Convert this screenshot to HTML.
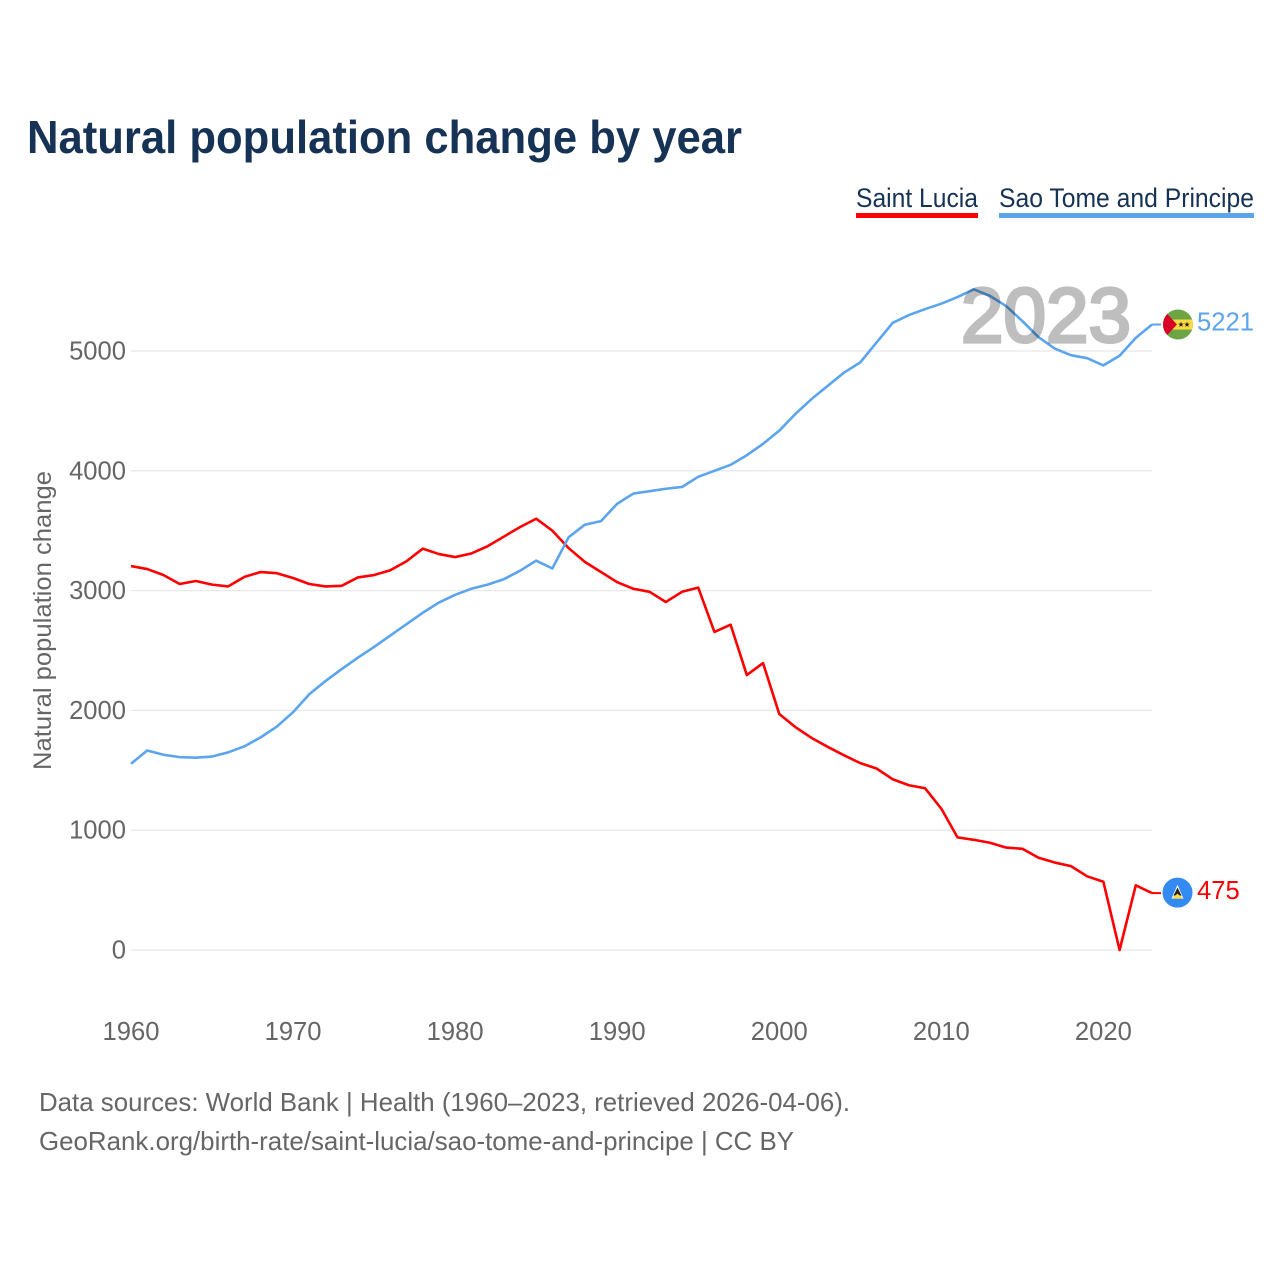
<!DOCTYPE html>
<html lang="en">
<head>
<meta charset="utf-8">
<title>Natural population change by year</title>
<style>
html,body{margin:0;padding:0;background:#fff;}
svg{display:block;font-family:"Liberation Sans",sans-serif;}
</style>
</head>
<body>
<svg id="chart" width="1280" height="1280" viewBox="0 0 1280 1280" xmlns="http://www.w3.org/2000/svg">
  <text x="27" y="153" font-size="46" font-weight="700" fill="#163254" textLength="715" lengthAdjust="spacingAndGlyphs">Natural population change by year</text>
  <g>
    <text x="856" y="207" font-size="27" fill="#163254" textLength="122" lengthAdjust="spacingAndGlyphs">Saint Lucia</text>
    <rect x="856" y="213" width="122" height="5" fill="#ff0000"/>
  </g>
  <g>
    <text x="999" y="207" font-size="27" fill="#163254" textLength="255" lengthAdjust="spacingAndGlyphs">Sao Tome and Principe</text>
    <rect x="999" y="213" width="255" height="5" fill="#5ba4ee"/>
  </g>
  <text transform="translate(51,770) rotate(-90)" font-size="25" fill="#666666" textLength="299" lengthAdjust="spacingAndGlyphs">Natural population change</text>
  <g id="grid"></g>
  <g id="yticks"></g>
  <g id="xticks"></g>
  <g id="series"></g>
  <g id="ends"></g>
  <g opacity="0.25">
    <text x="961" y="342" font-size="77" fill="#000000" stroke="#000000" stroke-width="3.2" textLength="170" lengthAdjust="spacingAndGlyphs">2023</text>
  </g>
  <text x="39" y="1111" font-size="26" fill="#666666" textLength="811" lengthAdjust="spacingAndGlyphs">Data sources: World Bank | Health (1960–2023, retrieved 2026-04-06).</text>
  <text x="39" y="1150" font-size="26" fill="#666666" textLength="755" lengthAdjust="spacingAndGlyphs">GeoRank.org/birth-rate/saint-lucia/sao-tome-and-principe | CC BY</text>
</svg>
<script>
const startYear = 1960;
const saintLucia = [3205,3180,3130,3055,3080,3050,3035,3115,3155,3145,3105,3055,3035,3040,3110,3130,3170,3245,3350,3305,3280,3310,3370,3450,3530,3600,3500,3355,3240,3155,3070,3015,2990,2905,2990,3025,2655,2715,2295,2395,1970,1860,1770,1695,1625,1560,1515,1425,1375,1350,1180,940,920,895,855,845,770,730,700,615,570,0,540,475];
const saoTome = [1555,1665,1630,1610,1605,1615,1650,1700,1775,1865,1985,2135,2245,2345,2440,2530,2625,2720,2815,2900,2965,3015,3050,3095,3165,3250,3185,3445,3550,3580,3725,3810,3830,3850,3865,3950,4000,4050,4130,4225,4335,4475,4600,4710,4820,4905,5070,5235,5300,5350,5395,5450,5515,5460,5375,5250,5115,5020,4965,4940,4880,4960,5110,5221];
const yTickValues = [0,1000,2000,3000,4000,5000];
const xTickValues = [1960,1970,1980,1990,2000,2010,2020];

const NS = 'http://www.w3.org/2000/svg';
function xScale(year){ return 131 + (year - 1960) * (1152 - 131) / 63; }
function yScale(v){ return 950 - v * 599 / 5000; }
function make(tag, attrs, parent){
  const el = document.createElementNS(NS, tag);
  for (const k in attrs) el.setAttribute(k, attrs[k]);
  parent.appendChild(el);
  return el;
}
const grid = document.getElementById('grid');
const yticks = document.getElementById('yticks');
const xticks = document.getElementById('xticks');
const seriesGroup = document.getElementById('series');
const ends = document.getElementById('ends');

yTickValues.forEach(function(v){
  const line = make('line', {x1:131, x2:1152, y1:yScale(v), y2:yScale(v), stroke:'#e8e8e8', 'stroke-width':1.3}, grid);
  
  
  const t = make('text', {x:126, y:yScale(v) + 8.5, 'text-anchor':'end', 'font-size':25.6, fill:'#666666'}, yticks);
  
  
  t.textContent = v;
});
xTickValues.forEach(function(y){
  const t = make('text', {x:xScale(y), y:1040, 'text-anchor':'middle', 'font-size':25.6, fill:'#666666'}, xticks);
  
  
  t.textContent = y;
});
function drawSeries(values, color, key){
  const pts = values.map(function(v, i){ return xScale(startYear + i).toFixed(2) + ',' + yScale(v).toFixed(2); });
  const lastX = xScale(startYear + values.length - 1);
  const lastY = yScale(values[values.length - 1]);
  const line = make('polyline', {points:pts.join(' '), fill:'none', stroke:color, 'stroke-width':2.6, 'stroke-linejoin':'round'}, seriesGroup);
  
  
  const conn = make('line', {x1:lastX, x2:lastX + 9, y1:lastY, y2:lastY, stroke:color, 'stroke-width':2}, ends);
  
  
  const label = make('text', {x:1197, y:lastY + 6, 'font-size':25.6, fill:color}, ends);
  
  
  label.textContent = values[values.length - 1];
  return lastY;
}
const yLucia = drawSeries(saintLucia, '#ff0000', 'saint-lucia');
const ySao = drawSeries(saoTome, '#5ba4ee', 'sao-tome');

/* Sao Tome flag */
const fs = make('g', {transform:'translate(1178,' + ySao + ')'}, ends);


make('clipPath', {id:'clipFlagS'}, fs).appendChild(document.createElementNS(NS, 'circle')).setAttribute('r', 15);
const fsInner = make('g', {'clip-path':'url(#clipFlagS)'}, fs);
make('rect', {x:-15, y:-15, width:30, height:30, fill:'#6da544'}, fsInner);
make('rect', {x:-15, y:-5, width:30, height:10, fill:'#ffda44'}, fsInner);
make('polygon', {points:'-15,-15 -1,0 -15,15', fill:'#d80027'}, fsInner);
const starPoints = '0,-3 .7,-.9 2.9,-.9 1.1,.4 1.8,2.4 0,1.2 -1.8,2.4 -1.1,.4 -2.9,-.9 -.7,-.9';
make('polygon', {points:starPoints, fill:'#222', transform:'translate(3,0)'}, fsInner);
make('polygon', {points:starPoints, fill:'#222', transform:'translate(9,0)'}, fsInner);

/* Saint Lucia flag */
const fl = make('g', {transform:'translate(1177.5,' + (yLucia - 0.5) + ')'}, ends);


make('circle', {r:15, fill:'#338af3'}, fl);
make('polygon', {points:'0,-8 6,6 -6,6', fill:'#f3f3f3'}, fl);
make('polygon', {points:'0,-5 4,3 -4,3', fill:'#222'}, fl);
make('polygon', {points:'0,1 6,6 -6,6', fill:'#ffda44'}, fl);
</script>
</body>
</html>
